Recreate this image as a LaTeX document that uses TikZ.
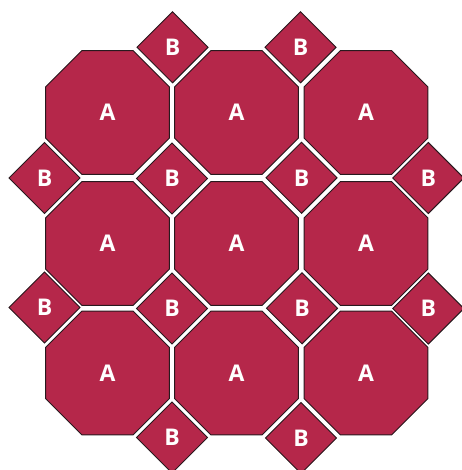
\documentclass[tikz,border=0pt]{standalone}
\usepackage{fontspec}
\setmainfont{Open Sans}
\usetikzlibrary{shapes.geometric}
\definecolor{tilered}{RGB}{181,39,74}
\definecolor{tileedge}{RGB}{40,25,30}
\tikzset{
  tile/.style={fill=tilered, draw=tileedge, line width=0.9pt, inner sep=0pt,
    text=white, font=\fontsize{23}{23}\selectfont\bfseries},
  octa/.style={tile, regular polygon, regular polygon sides=8, minimum size=134pt},
  sq/.style={tile, diamond, aspect=1, minimum size=71.5pt}
}
\begin{document}
\begin{tikzpicture}[x=1pt,y=-1pt]
\useasboundingbox (0,0) rectangle (461,470);
% octagons
\node[octa] (o11) at (107.5,112.5) {A};
\node[octa] (o12) at (236.5,112.5) {A};
\node[octa] (o13) at (366,112.5) {A};
\node[octa] (o21) at (107.5,243.5) {A};
\node[octa] (o22) at (236.5,243.5) {A};
\node[octa] (o23) at (366,243.5) {A};
\node[octa] (o31) at (107.5,373) {A};
\node[octa] (o32) at (236.5,373) {A};
\node[octa] (o33) at (366,373) {A};
% squares
\node[sq] (s01) at (172.5,47.3) {B};
\node[sq] (s02) at (300.5,47.3) {B};
\node[sq] (s10) at (44.5,178) {B};
\node[sq] (s11) at (172,178.5) {B};
\node[sq] (s12) at (301.5,177.8) {B};
\node[sq] (s13) at (428.3,178) {B};
\node[sq] (s20) at (44.5,307.5) {B};
\node[sq] (s21) at (172,308.5) {B};
\node[sq] (s22) at (302,308.3) {B};
\node[sq] (s23) at (428.3,308.5) {B};
\node[sq] (s31) at (172,437.5) {B};
\node[sq] (s32) at (301,438) {B};
\end{tikzpicture}
\end{document}
